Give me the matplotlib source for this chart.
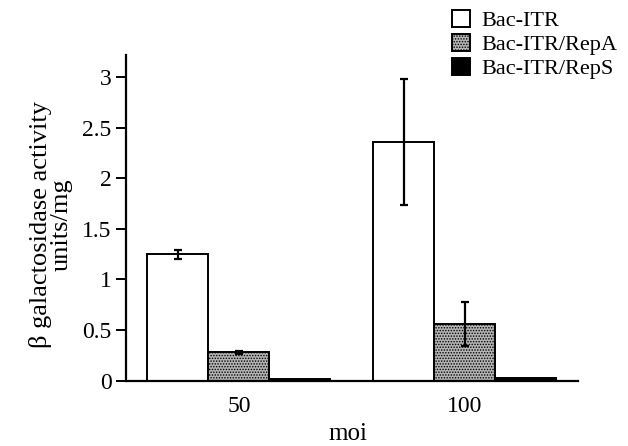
import matplotlib.pyplot as plt
import numpy as np
from matplotlib import rcParams

groups = ['50', '100']
series = ['Bac-ITR', 'Bac-ITR/RepA', 'Bac-ITR/RepS']
values = {
    'Bac-ITR': [1.25, 2.36],
    'Bac-ITR/RepA': [0.28, 0.56],
    'Bac-ITR/RepS': [0.02, 0.025],
}
errors = {
    'Bac-ITR': [0.045, 0.62],
    'Bac-ITR/RepA': [0.015, 0.22],
    'Bac-ITR/RepS': [0.0, 0.0],
}
yticks = [0, 0.5, 1, 1.5, 2, 2.5, 3]
ytick_labels = ['0', '0.5', '1', '1.5', '2', '2.5', '3']

rcParams.update({
    'font.family': ['Liberation Serif', 'DejaVu Serif'],
    'font.size': 17,
    'hatch.linewidth': 0.7,
    'hatch.color': '#444444',
})

fig = plt.figure(figsize=(6.28, 4.46), dpi=100)
ax = fig.add_axes([0.2006, 0.1466, 0.7194, 0.7304])

x = np.arange(len(groups))
width = 0.27
styles = [
    dict(color='white', hatch=None),
    dict(color='#b4b4b4', hatch='......'),
    dict(color='black', hatch=None),
]
for i, name in enumerate(series):
    offset = (i - 1) * width
    ax.bar(x + offset, values[name], width, label=name,
           facecolor=styles[i]['color'], hatch=styles[i]['hatch'],
           edgecolor='black', linewidth=1.4)
    if i < 2:
        ax.errorbar(x + offset, values[name], yerr=errors[name], fmt='none',
                    ecolor='black', elinewidth=1.6, capsize=3, capthick=1.6)

ax.set_xlim(-0.5, 1.5)
ax.set_ylim(0, 3.22)
ax.set_xticks(x, groups)
ax.tick_params(axis='x', length=0, pad=11, labelsize=17)
ax.set_yticks(yticks, ytick_labels)
ax.tick_params(axis='y', direction='out', length=7, width=1.4, labelsize=17)

ax.spines['top'].set_visible(False)
ax.spines['right'].set_visible(False)
ax.spines['left'].set_linewidth(1.6)
ax.spines['bottom'].set_linewidth(1.6)

ax.set_xlabel('moi', fontsize=18)
ax.xaxis.set_label_coords(0.491, -0.13)
ax.set_ylabel('β galactosidase activity\nunits/mg', fontsize=19, linespacing=0.9)
ax.yaxis.set_label_coords(-0.118, 0.478)

fig.legend(loc='upper left', bbox_to_anchor=(452 / 628, 1 - 10 / 446), frameon=False,
           fontsize=16, handlelength=0.8, handleheight=0.8, handletextpad=0.5,
           labelspacing=0.12, borderpad=0, borderaxespad=0)

plt.savefig('out.png', dpi=100)
